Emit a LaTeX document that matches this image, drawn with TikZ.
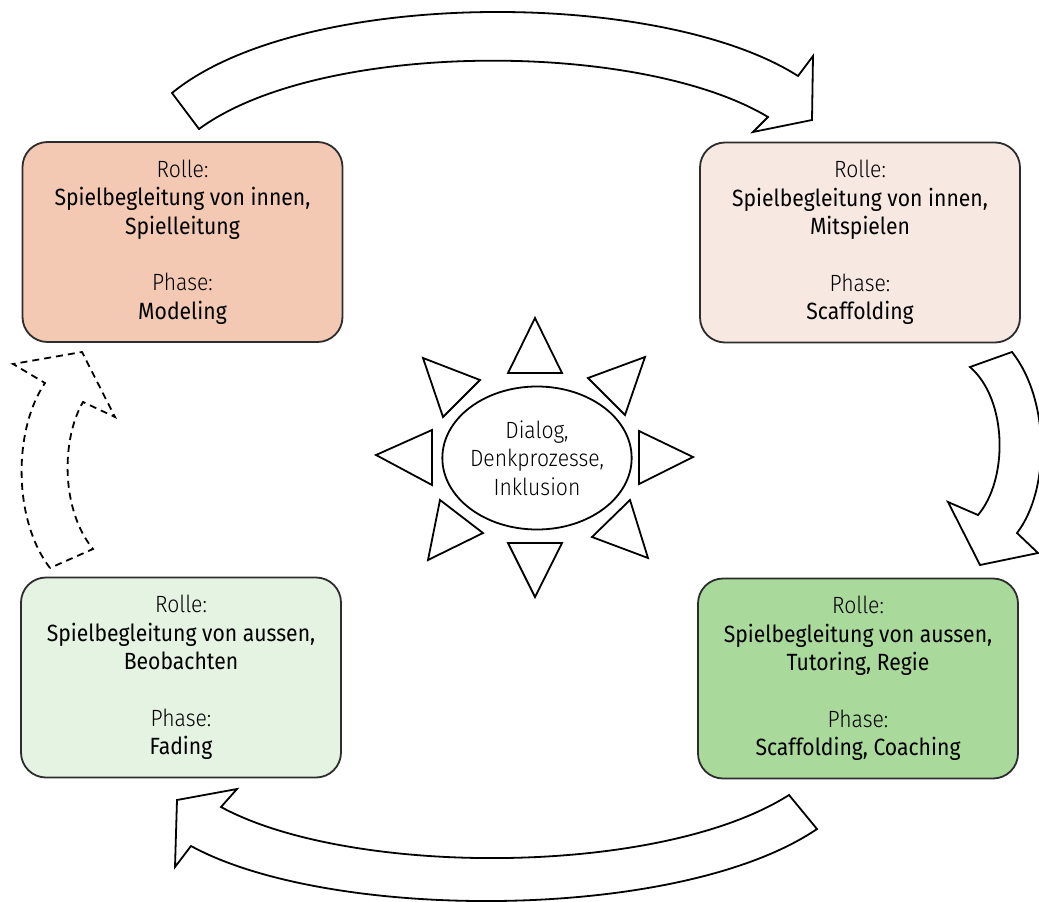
\documentclass[tikz,border=0pt]{standalone}
\usepackage{fontspec}
\setmainfont{Fira Sans}[FakeStretch=0.9]
\newfontfamily\lightfont{Fira Sans Light}[FakeStretch=0.9]
\usetikzlibrary{shapes.geometric}
\definecolor{boxA}{RGB}{243,201,179}
\definecolor{boxB}{RGB}{247,232,226}
\definecolor{boxC}{RGB}{228,243,226}
\definecolor{boxD}{RGB}{169,217,155}
\definecolor{edge}{RGB}{45,45,45}
\tikzset{
  rolebox/.style={draw=edge, line width=1.8pt, rounded corners=25pt,
    minimum width=320pt, minimum height=200pt, align=center,
    font=\fontsize{23.5}{28.5}\selectfont, inner sep=0pt},
  blockarrow/.style={draw=black, line width=1.8pt, fill=white, line join=miter},
  dashedarrow/.style={blockarrow, dash pattern=on 7pt off 5pt},
  ray/.style={draw=black, line width=1.8pt, fill=white, line join=miter},
}
\begin{document}
\begin{tikzpicture}[x=1pt,y=-1pt]
\useasboundingbox (0,0) rectangle (1039,902);
\fill[white] (0,0) rectangle (1039,902);

% boxes
\node[rolebox, fill=boxA] (modeling) at (182.5,242)
  {{\lightfont Rolle:}\\Spielbegleitung von innen,\\Spielleitung\\[28pt]{\lightfont Phase:}\\Modeling};
\node[rolebox, fill=boxB] (scaff) at (860,242.5)
  {{\lightfont Rolle:}\\Spielbegleitung von innen,\\Mitspielen\\[28pt]{\lightfont Phase:}\\Scaffolding};
\node[rolebox, fill=boxC] (fading) at (181,677.5)
  {{\lightfont Rolle:}\\Spielbegleitung von aussen,\\Beobachten\\[28pt]{\lightfont Phase:}\\Fading};
\node[rolebox, fill=boxD] (coach) at (858,678.5)
  {{\lightfont Rolle:}\\Spielbegleitung von aussen,\\Tutoring, Regie\\[28pt]{\lightfont Phase:}\\Scaffolding, Coaching};

% top arrow
\draw[blockarrow] (172,93) .. controls (300,-12) and (660,-12) .. (798,76)
  -- (813,56) -- (812,120) -- (753,132) -- (768,117)
  .. controls (640,40) and (320,40) .. (199,129) -- cycle;
% right arrow
\draw[blockarrow] (1012,352) .. controls (1050,400) and (1050,490) .. (1017,533)
  -- (1038,553) -- (980,565) -- (948,502) -- (978,515)
  .. controls (1008,480) and (1008,400) .. (970,367) -- cycle;
% bottom arrow
\draw[blockarrow] (817,829) .. controls (680,922) and (330,922) .. (191,846)
  -- (175,867) -- (177,800) -- (237,789) -- (221,807)
  .. controls (350,877) and (660,877) .. (789,795) -- cycle;
% left dashed arrow
\draw[dashedarrow] (50,568) .. controls (13,520) and (13,430) .. (45,383)
  -- (13,364) -- (82,352) -- (115,417) -- (83,402)
  .. controls (61,440) and (61,510) .. (93,549) -- cycle;

% sun rays
\draw[ray] (535,318) -- (508,373) -- (562,373) -- cycle;
\draw[ray] (535,597) -- (508,543) -- (562,543) -- cycle;
\draw[ray] (376,455) -- (432,430) -- (432,485) -- cycle;
\draw[ray] (693,457) -- (639,431) -- (639,484) -- cycle;
\draw[ray] (423,358) -- (480,380) -- (443,417) -- cycle;
\draw[ray] (645,357) -- (588,378) -- (625,415) -- cycle;
\draw[ray] (428,560) -- (440,500) -- (483,533) -- cycle;
\draw[ray] (648,558) -- (630,500) -- (592,537) -- cycle;

% centre
\node[ellipse, draw=black, line width=1.8pt, fill=white, minimum width=180pt,
  minimum height=143pt, inner sep=0pt, align=center,
  font=\lightfont\fontsize{23.5}{28.5}\selectfont] (centre) at (537,458)
  {Dialog,\\Denkprozesse,\\Inklusion};
\end{tikzpicture}
\end{document}
